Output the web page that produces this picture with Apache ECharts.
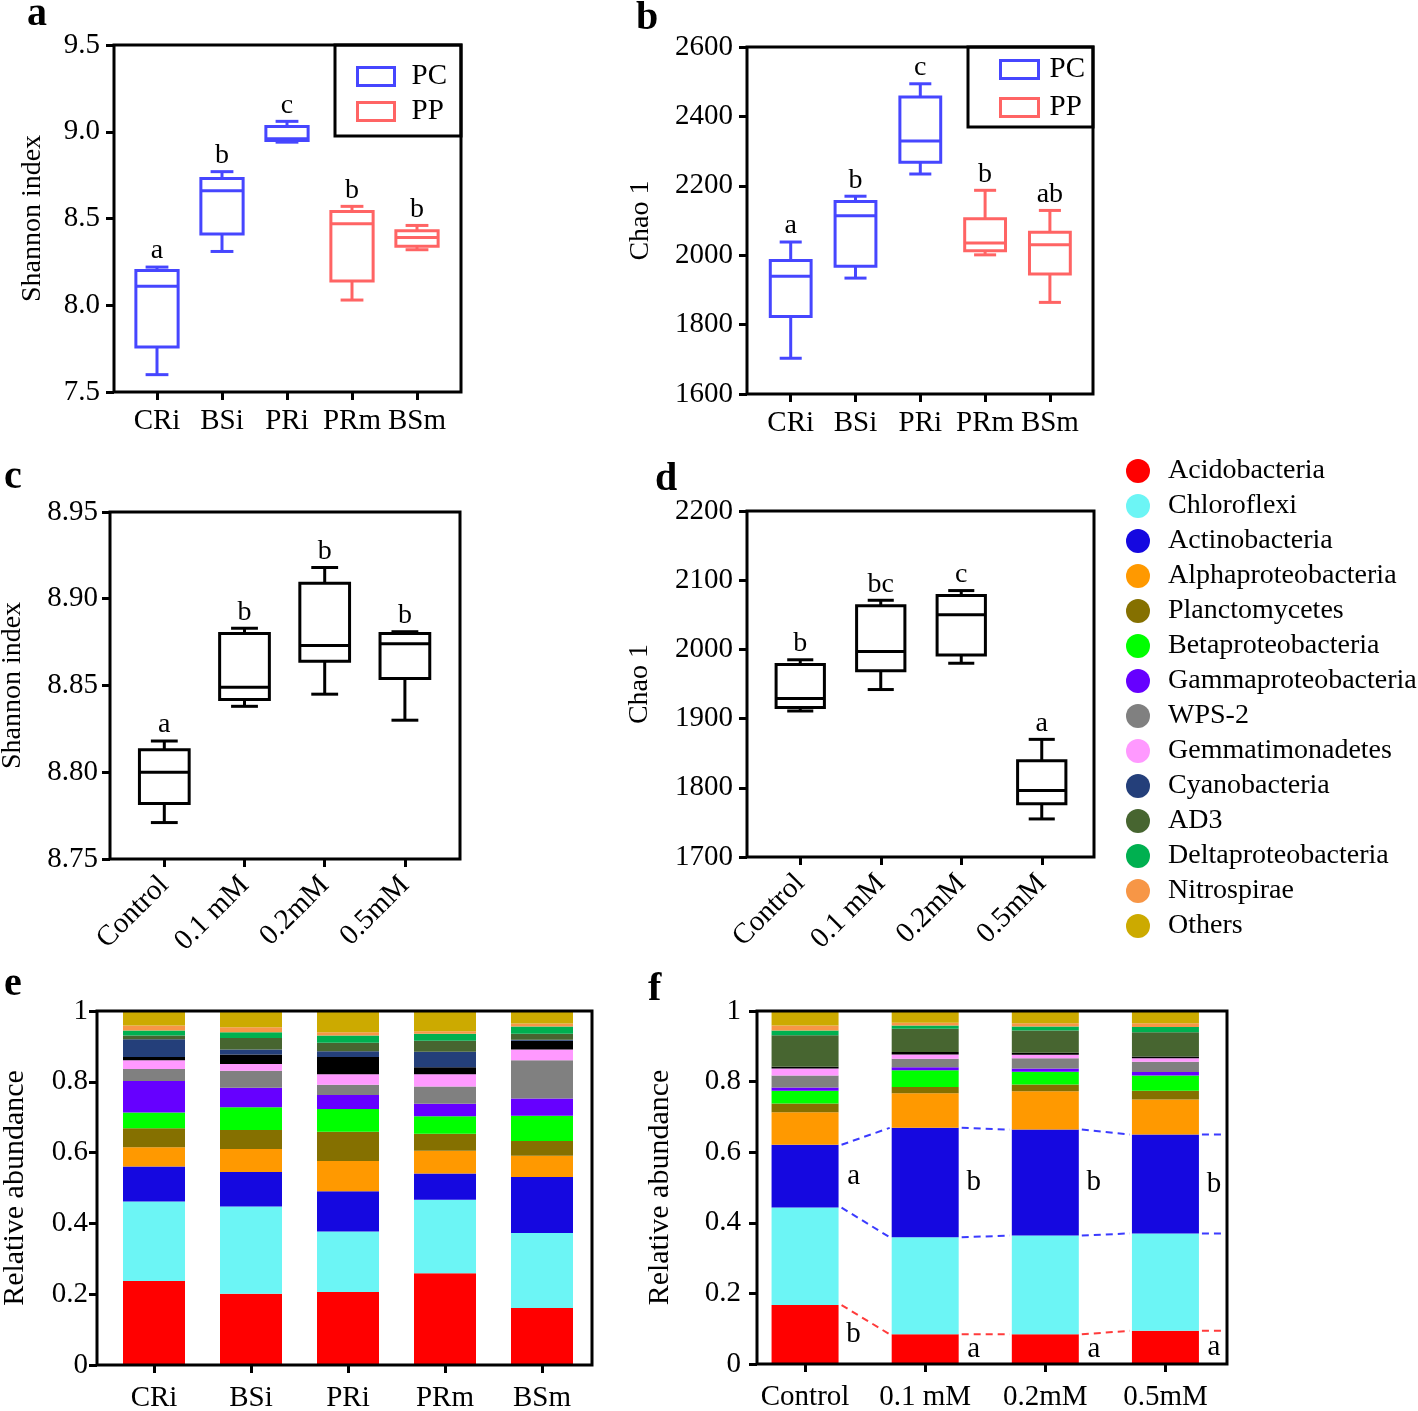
<!DOCTYPE html>
<html><head><meta charset="utf-8">
<script src="https://cdn.jsdelivr.net/npm/echarts@6/dist/echarts.min.js"></script>
<style>html,body{margin:0;padding:0;background:#fff}#c{width:1418px;height:1411px}</style>
</head><body><div id="c"></div>
<script>
const FONT = "'Liberation Serif','Times New Roman',serif";

// ---------- Panels a / b ----------
const abCategories = ['CRi', 'BSi', 'PRi', 'PRm', 'BSm'];
const abGroups = ['PC', 'PC', 'PC', 'PP', 'PP'];
// [min, Q1, median, Q3, max]
const shannonCRi = [7.60, 7.76, 8.11, 8.20, 8.22];
const shannonBSi = [8.31, 8.41, 8.66, 8.73, 8.77];
const shannonPRi = [8.94, 8.95, 8.96, 9.03, 9.06];
const shannonPRm = [8.03, 8.14, 8.47, 8.54, 8.57];
const shannonBSm = [8.32, 8.34, 8.39, 8.43, 8.46];
const lettersA = ['a', 'b', 'c', 'b', 'b'];
const chaoCRi = [1703, 1823, 1939, 1985, 2038];
const chaoBSi = [1934, 1968, 2114, 2155, 2170];
const chaoPRi = [2234, 2268, 2329, 2456, 2494];
const chaoPRm = [2001, 2013, 2035, 2105, 2187];
const chaoBSm = [1864, 1946, 2030, 2066, 2129];
const lettersB = ['a', 'b', 'c', 'b', 'ab'];

// ---------- Panels c / d ----------
const cdCategories = ['Control', '0.1 mM', '0.2mM', '0.5mM'];
const shannonControl = [8.771, 8.782, 8.800, 8.813, 8.818];
const shannon01 = [8.838, 8.842, 8.849, 8.880, 8.883];
const shannon02 = [8.845, 8.864, 8.873, 8.909, 8.918];
const shannon05 = [8.830, 8.854, 8.874, 8.880, 8.881];
const lettersC = ['a', 'b', 'b', 'b'];
const chaoControl = [1911, 1916, 1929, 1978, 1985];
const chao01 = [1942, 1969, 1997, 2063, 2071];
const chao02 = [1980, 1992, 2050, 2078, 2085];
const chao05 = [1755, 1777, 1796, 1839, 1870];
const lettersD = ['b', 'bc', 'c', 'a'];

// ---------- Panels e / f (stacked relative abundance) ----------
const phyla = ['Acidobacteria', 'Chloroflexi', 'Actinobacteria', 'Alphaproteobacteria', 'Planctomycetes',
  'Betaproteobacteria', 'Gammaproteobacteria', 'WPS-2', 'Gemmatimonadetes', 'Unclassified',
  'Cyanobacteria', 'AD3', 'Deltaproteobacteria', 'Nitrospirae', 'Others'];
const phylaColors = ['#FF0000', '#6CF5F5', '#1508E0', '#FF9900', '#857000', '#00FF00', '#6600FF', '#808080',
  '#FF99FF', '#000000', '#243F7A', '#476530', '#00B050', '#F79646', '#CCAA00'];
const legendPhyla = phyla.filter(p => p !== 'Unclassified');

const eSamples = ['CRi', 'BSi', 'PRi', 'PRm', 'BSm'];
const eCRi = [0.237, 0.225, 0.099, 0.054, 0.054, 0.044, 0.089, 0.034, 0.025, 0.009, 0.050, 0.011, 0.014, 0.014, 0.041];
const eBSi = [0.201, 0.247, 0.097, 0.065, 0.054, 0.064, 0.055, 0.048, 0.019, 0.027, 0.014, 0.033, 0.016, 0.014, 0.046];
const ePRi = [0.206, 0.171, 0.114, 0.085, 0.083, 0.064, 0.040, 0.029, 0.029, 0.049, 0.016, 0.024, 0.021, 0.009, 0.060];
const ePRm = [0.259, 0.208, 0.074, 0.064, 0.048, 0.050, 0.035, 0.049, 0.034, 0.020, 0.044, 0.031, 0.020, 0.007, 0.057];
const eBSm = [0.161, 0.212, 0.158, 0.060, 0.042, 0.071, 0.049, 0.108, 0.030, 0.025, 0.003, 0.017, 0.020, 0.009, 0.035];

const fSamples = ['Control', '0.1 mM', '0.2mM', '0.5mM'];
const fControl = [0.167, 0.276, 0.178, 0.092, 0.025, 0.036, 0.009, 0.034, 0.020, 0.005, 0.000, 0.089, 0.014, 0.014, 0.041];
const f01 = [0.084, 0.275, 0.310, 0.098, 0.018, 0.047, 0.009, 0.024, 0.012, 0.007, 0.000, 0.066, 0.009, 0.008, 0.033];
const f02 = [0.084, 0.280, 0.300, 0.109, 0.019, 0.036, 0.009, 0.029, 0.010, 0.006, 0.000, 0.063, 0.011, 0.009, 0.035];
const f05 = [0.094, 0.276, 0.280, 0.099, 0.025, 0.043, 0.010, 0.029, 0.010, 0.005, 0.000, 0.069, 0.015, 0.010, 0.035];
const fActinoLetters = ['a', 'b', 'b', 'b'];
const fAcidoLetters = ['b', 'a', 'a', 'a'];

const eRows = [eCRi, eBSi, ePRi, ePRm, eBSm];
const fRows = [fControl, f01, f02, f05];

// ---------- helpers ----------
const BLUE = '#4646FF', RED = '#FF6464';
const TICK_FS = 29;

function boxSeries(name, gi, statsRows, letters, idxs, color, ratio) {
  return {
    type: 'custom', name: name, xAxisIndex: gi, yAxisIndex: gi, z: 5,
    encode: { x: 0, y: [1, 2, 3, 4, 5] },
    data: idxs.map(i => [i].concat(statsRows[i])),
    itemStyle: { color: color },
    renderItem: function (params, api) {
      const i = api.value(0);
      const pMin = api.coord([i, api.value(1)]);
      const pQ1 = api.coord([i, api.value(2)]);
      const pMed = api.coord([i, api.value(3)]);
      const pQ3 = api.coord([i, api.value(4)]);
      const pMax = api.coord([i, api.value(5)]);
      const bw = api.size([1, 0])[0] * ratio;
      const cx = pMed[0], hw = bw / 2, hc = bw * 0.27;
      const st = { stroke: color, lineWidth: 3, fill: null };
      return {
        type: 'group', children: [
          { type: 'rect', shape: { x: cx - hw, y: pQ3[1], width: bw, height: pQ1[1] - pQ3[1] }, style: { stroke: color, lineWidth: 3, fill: 'rgba(0,0,0,0)' } },
          { type: 'line', shape: { x1: cx - hw, y1: pMed[1], x2: cx + hw, y2: pMed[1] }, style: st },
          { type: 'line', shape: { x1: cx, y1: pQ3[1], x2: cx, y2: pMax[1] }, style: st },
          { type: 'line', shape: { x1: cx, y1: pQ1[1], x2: cx, y2: pMin[1] }, style: st },
          { type: 'line', shape: { x1: cx - hc, y1: pMax[1], x2: cx + hc, y2: pMax[1] }, style: st },
          { type: 'line', shape: { x1: cx - hc, y1: pMin[1], x2: cx + hc, y2: pMin[1] }, style: st },
          { type: 'text', x: cx, y: pMax[1] - 2, style: { text: letters[i], fill: '#000', font: '28px ' + FONT, align: 'center', verticalAlign: 'bottom' } }
        ]
      };
    }
  };
}

function xAx(gi, data, extraLabel) {
  return {
    type: 'category', gridIndex: gi, data: data, boundaryGap: true,
    axisLine: { show: false },
    axisTick: { show: true, alignWithLabel: true, length: 8, lineStyle: { color: '#000', width: 3 } },
    axisLabel: Object.assign({ interval: 0, color: '#000', fontFamily: FONT, fontSize: TICK_FS, margin: 15 }, extraLabel || {}),
    splitLine: { show: false }
  };
}
function yAx(gi, min, max, interval, offset, name, nameGap, fmt, margin, nameSize) {
  return {
    type: 'value', gridIndex: gi, min: min, max: max, interval: interval, offset: offset,
    name: name, nameLocation: 'middle', nameGap: nameGap,
    nameTextStyle: { fontFamily: FONT, fontSize: nameSize || 28, color: '#000' },
    axisLine: { show: false },
    axisTick: { show: true, length: 8, lineStyle: { color: '#000', width: 3 } },
    axisLabel: { color: '#000', fontFamily: FONT, fontSize: TICK_FS, margin: margin, formatter: fmt },
    splitLine: { show: false }
  };
}

const idxPC = abGroups.map((g, i) => g === 'PC' ? i : -1).filter(i => i >= 0);
const idxPP = abGroups.map((g, i) => g === 'PP' ? i : -1).filter(i => i >= 0);
const shannonAB = [shannonCRi, shannonBSi, shannonPRi, shannonPRm, shannonBSm];
const chaoAB = [chaoCRi, chaoBSi, chaoPRi, chaoPRm, chaoBSm];
const shannonCD = [shannonControl, shannon01, shannon02, shannon05];
const chaoCD = [chaoControl, chao01, chao02, chao05];
const allCD = cdCategories.map((c, i) => i);

const series = [
  boxSeries('PC', 0, shannonAB, lettersA, idxPC, BLUE, 0.65),
  boxSeries('PP', 0, shannonAB, lettersA, idxPP, RED, 0.65),
  boxSeries('PC', 1, chaoAB, lettersB, idxPC, BLUE, 0.63),
  boxSeries('PP', 1, chaoAB, lettersB, idxPP, RED, 0.63),
  boxSeries('shannonCD', 2, shannonCD, lettersC, allCD, '#000', 0.62),
  boxSeries('chaoCD', 3, chaoCD, lettersD, allCD, '#000', 0.6)
];

phyla.forEach((p, k) => {
  series.push({ type: 'bar', name: p, stack: 'e', xAxisIndex: 4, yAxisIndex: 4, barWidth: 62,
    itemStyle: { color: phylaColors[k] }, data: eRows.map(r => r[k]) });
});
phyla.forEach((p, k) => {
  series.push({ type: 'bar', name: p, stack: 'f', xAxisIndex: 5, yAxisIndex: 5, barWidth: 67,
    itemStyle: { color: phylaColors[k] }, data: fRows.map(r => r[k]) });
});

// cumulative boundaries in f
function cum(row, upto) { let s = 0; for (let k = 0; k <= upto; k++) s += row[k]; return s; }
const F_BAR = 67;
function dashSeries(upto, color) {
  const vals = fRows.map(r => cum(r, upto));
  const n = fRows.length;
  return {
    type: 'custom', xAxisIndex: 5, yAxisIndex: 5, z: 6, silent: true,
    data: vals.map((v, i) => [i, v, i < n - 1 ? vals[i + 1] : v]),
    renderItem: function (params, api) {
      const i = api.value(0);
      const p1 = api.coord([i, api.value(1)]);
      let x2, y2;
      if (i < n - 1) { const p2 = api.coord([i + 1, api.value(2)]); x2 = p2[0] - F_BAR / 2 - 2; y2 = p2[1]; }
      else { x2 = params.coordSys.x + params.coordSys.width; y2 = p1[1]; }
      return { type: 'line', shape: { x1: p1[0] + F_BAR / 2 + 3, y1: p1[1], x2: x2, y2: y2 },
        style: { stroke: color, lineWidth: 2, lineDash: [7, 5] } };
    }
  };
}
series.push(dashSeries(0, '#FF3B3B'));
series.push(dashSeries(1, '#3B3BFF'));
series.push(dashSeries(2, '#3B3BFF'));

function letterSeries(lo, hi, letters) {
  return {
    type: 'custom', xAxisIndex: 5, yAxisIndex: 5, z: 6, silent: true,
    data: fRows.map((r, i) => [i, ((lo < 0 ? 0 : cum(r, lo)) + cum(r, hi)) / 2]),
    renderItem: function (params, api) {
      const i = api.value(0);
      const p = api.coord([i, api.value(1)]);
      return { type: 'text', x: p[0] + F_BAR / 2 + 15, y: p[1], style: { text: letters[i], fill: '#000', font: '29px ' + FONT, align: 'center', verticalAlign: 'middle' } };
    }
  };
}
series.push(letterSeries(1, 2, fActinoLetters));
series.push(letterSeries(-1, 0, fAcidoLetters));

const f1 = v => v.toFixed(1), f2 = v => v.toFixed(2), f0 = v => String(v);
const fRel = v => String(Math.round(v * 10) / 10);

const frame = (x, y, w, h) => ({ type: 'rect', z: 50, silent: true, shape: { x: x, y: y, width: w, height: h }, style: { fill: 'rgba(0,0,0,0)', stroke: '#000', lineWidth: 3 } });
const panelLetter = (t, x, y) => ({ type: 'text', z: 50, x: x, y: y, style: { text: t, fill: '#000', font: 'bold 40px ' + FONT, align: 'left', verticalAlign: 'middle' } });

const option = {
  animation: false,
  backgroundColor: '#fff',
  grid: [
    { left: 124.5, top: 45, width: 325, height: 347, outerBoundsMode: 'none' },
    { left: 758.3, top: 47, width: 324, height: 347, outerBoundsMode: 'none' },
    { left: 124.2, top: 512, width: 320.8, height: 347, outerBoundsMode: 'none' },
    { left: 760, top: 511, width: 322, height: 346, outerBoundsMode: 'none' },
    { left: 105.5, top: 1011, width: 485, height: 354, outerBoundsMode: 'none' },
    { left: 745, top: 1011, width: 480.5, height: 353, outerBoundsMode: 'none' }
  ],
  xAxis: [
    xAx(0, abCategories),
    xAx(1, abCategories),
    xAx(2, cdCategories, { rotate: 45, margin: 22 }),
    xAx(3, cdCategories, { rotate: 45, margin: 22 }),
    xAx(4, eSamples, { margin: 19 }),
    xAx(5, fSamples, { margin: 19 })
  ],
  yAxis: [
    yAx(0, 7.5, 9.5, 0.5, 10.5, 'Shannon index', 67, f1, 14),
    yAx(1, 1600, 2600, 200, 11.3, 'Chao 1', 92, f0, 14),
    yAx(2, 8.75, 8.95, 0.05, 14.2, 'Shannon index', 83, f2, 12),
    yAx(3, 1700, 2200, 100, 13, 'Chao 1', 93, f0, 14),
    yAx(4, 0, 1, 0.2, 8.5, 'Relative abundance', 67, fRel, 9, 30),
    yAx(5, 0, 1, 0.2, -12, 'Relative abundance', 82, fRel, 16, 30)
  ],
  legend: [
    { orient: 'vertical', left: 356, top: 62, padding: 0, itemWidth: 37, itemHeight: 18, itemGap: 6, icon: 'rect',
      selectedMode: false, textStyle: { fontFamily: FONT, fontSize: 29, color: '#000', padding: [0, 0, 0, 12] },
      data: [{ name: 'PC', itemStyle: { color: '#fff', borderColor: BLUE, borderWidth: 3 } },
             { name: 'PP', itemStyle: { color: '#fff', borderColor: RED, borderWidth: 3 } }] },
    { orient: 'vertical', left: 999, top: 55, padding: 0, itemWidth: 38, itemHeight: 18, itemGap: 9, icon: 'rect',
      selectedMode: false, textStyle: { fontFamily: FONT, fontSize: 29, color: '#000', padding: [0, 0, 0, 6] },
      data: [{ name: 'PC', itemStyle: { color: '#fff', borderColor: BLUE, borderWidth: 3 } },
             { name: 'PP', itemStyle: { color: '#fff', borderColor: RED, borderWidth: 3 } }] },
    { orient: 'vertical', left: 1126, top: 457, padding: 0, itemWidth: 50, itemHeight: 24, itemGap: 7, icon: 'circle',
      symbolKeepAspect: true, selectedMode: false,
      textStyle: { fontFamily: FONT, fontSize: 28, color: '#000', lineHeight: 24 },
      data: legendPhyla }
  ],
  graphic: { elements: [
    frame(114, 45, 347, 347), frame(747, 47, 346, 347), frame(110, 512, 350, 347),
    frame(747, 511, 347, 346), frame(97, 1011, 495, 354), frame(757, 1011, 470, 353),
    frame(335, 45, 126, 91), frame(968, 47, 125, 80),
    panelLetter('a', 27, 15), panelLetter('b', 636, 19), panelLetter('c', 4, 478),
    panelLetter('d', 655, 480), panelLetter('e', 4, 985), panelLetter('f', 648, 990)
  ] },
  series: series
};

const chart = echarts.init(document.getElementById('c'));
chart.setOption(option);
</script>
</body></html>
